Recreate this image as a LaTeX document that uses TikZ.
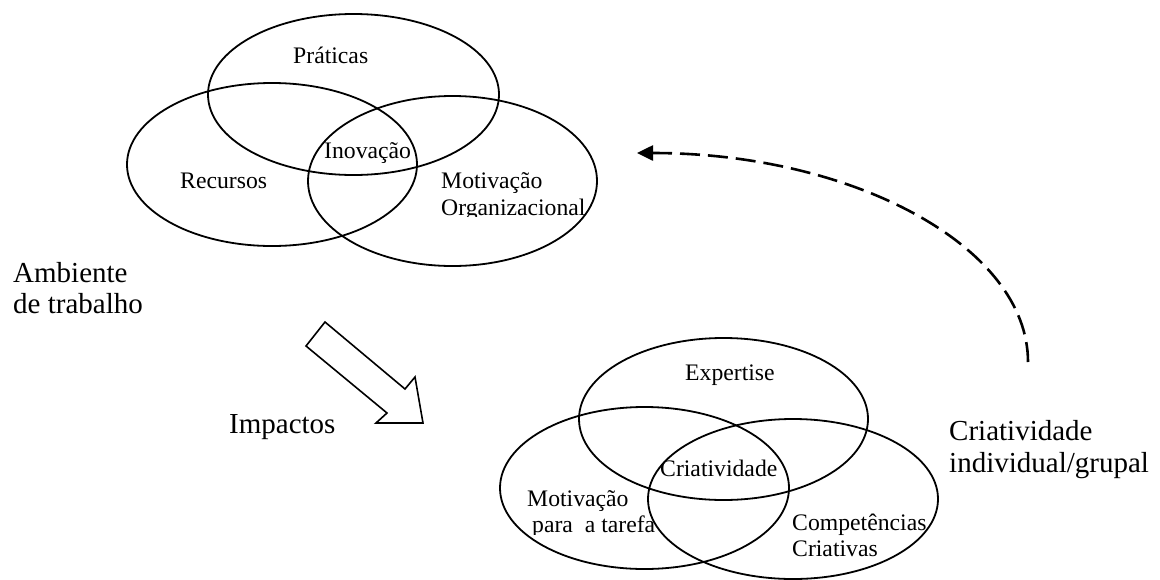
\documentclass[tikz,border=0pt]{standalone}
\usepackage{fontspec}
\setmainfont{Liberation Serif}
\usetikzlibrary{shapes.geometric,arrows.meta}
\tikzset{
  venn/.style={draw, ellipse, line width=1.8pt, inner sep=0pt, outer sep=0pt},
  small/.style={anchor=base west, inner sep=0pt, font=\fontsize{23.7}{27}\selectfont},
  big/.style={anchor=base west, inner sep=0pt, font=\fontsize{29}{32}\selectfont},
  blockarrow/.style={draw, line width=1.6pt, line join=miter},
  feedback/.style={line width=2.6pt, dash pattern=on 20pt off 8pt, -{Triangle[length=16pt,width=15pt]}}
}
\begin{document}
\begin{tikzpicture}[x=1pt,y=-1pt]
\useasboundingbox (0,0) rectangle (1160,579);
% top Venn
\node[venn, minimum width=291pt, minimum height=161pt] (prat) at (353.5,94.5) {};
\node[venn, minimum width=290pt, minimum height=163pt] (recu) at (272,164.5) {};
\node[venn, minimum width=289pt, minimum height=170pt] (motorg) at (452.5,181) {};
\node[small] (tprat) at (293,63) {Práticas};
\node[small] (tinov) at (324,158) {Inovação};
\node[small] (trecu) at (180,188) {Recursos};
\begin{scope}
\clip (430,160) rectangle (620,216);
\node[small] (tmot1) at (441,188) {Motivação};
\node[small] (tmot2) at (441,215) {Organizacional};
\end{scope}
% bottom Venn
\node[venn, minimum width=289pt, minimum height=162pt] (expe) at (723.5,419) {};
\node[venn, minimum width=289pt, minimum height=162pt] (motta) at (644.5,488) {};
\node[venn, minimum width=290pt, minimum height=160pt] (comp) at (793,499) {};
\node[small] (texpe) at (685,380) {Expertise};
\node[small] (tcria) at (660,476) {Criatividade};
\begin{scope}
\clip (515,480) rectangle (660,534);
\node[small] (tmt1) at (527,506) {Motivação};
\node[small] (tmt2) at (532,532) {para\ \ a tarefa};
\end{scope}
\node[small] (tcomp1) at (792,530) {Competências};
\node[small] (tcomp2) at (792,556) {Criativas};
% side labels
\node[big] (amb1) at (13,282) {Ambiente};
\node[big] (amb2) at (13,313) {de trabalho};
\node[big] (imp) at (229,433) {Impactos};
\node[big] (cri1) at (949,440) {Criatividade};
\node[big] (cri2) at (949,472) {individual/grupal};
% block arrow
\draw[blockarrow] (325,322) -- (405,389) -- (415,377) -- (423,423) -- (376,423) -- (387,413) -- (306,346) -- cycle;
% feedback dashed arrow
\coordinate (fbstart) at (1028,362);
\draw[feedback] (fbstart) arc[start angle=0, end angle=-90, x radius=391, y radius=209];
\end{tikzpicture}
\end{document}
